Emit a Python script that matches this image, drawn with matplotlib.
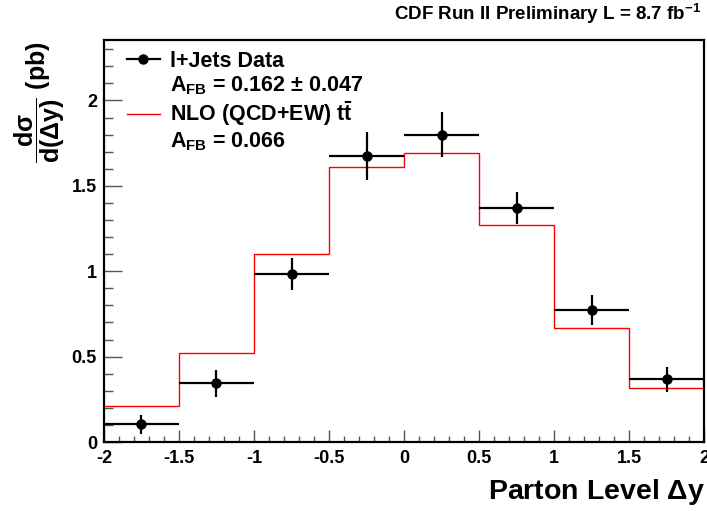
import numpy as np
import matplotlib
matplotlib.use('Agg')
import matplotlib.pyplot as plt
from matplotlib.lines import Line2D
from matplotlib.ticker import MultipleLocator

plt.rcParams['font.family'] = ['Liberation Sans', 'DejaVu Sans']
plt.rcParams['font.weight'] = 'bold'
plt.rcParams['axes.unicode_minus'] = False
plt.rcParams['mathtext.fontset'] = 'custom'
plt.rcParams['mathtext.rm'] = 'Liberation Sans:bold'
plt.rcParams['mathtext.bf'] = 'Liberation Sans:bold'
plt.rcParams['mathtext.it'] = 'Liberation Sans:bold'

# binning in parton level delta y
edges = [-2.0, -1.5, -1.0, -0.5, 0.0, 0.5, 1.0, 1.5, 2.0]
centers = [-1.75, -1.25, -0.75, -0.25, 0.25, 0.75, 1.25, 1.75]

# l+jets data
data_y = [0.104, 0.344, 0.984, 1.677, 1.80, 1.369, 0.773, 0.367]
data_err = [0.055, 0.078, 0.095, 0.14, 0.13, 0.095, 0.09, 0.073]

# NLO (QCD+EW) ttbar prediction
nlo_y = [0.213, 0.52, 1.10, 1.613, 1.695, 1.27, 0.666, 0.315]

fig = plt.figure(figsize=(7.07, 5.11), dpi=100)
ax = fig.add_axes([0.147, 0.135, 0.849, 0.787])

ax.stairs(nlo_y, edges, color='red', lw=1.0, baseline=None)
ax.errorbar(centers, data_y, xerr=0.25, yerr=data_err, fmt='o', color='black',
            ms=6.5, lw=1.6, capsize=0)

ax.set_xlim(-2, 2)
ax.set_ylim(0, 2.355)

ax.xaxis.set_major_locator(MultipleLocator(0.5))
ax.xaxis.set_minor_locator(MultipleLocator(0.1))
ax.yaxis.set_major_locator(MultipleLocator(0.5))
ax.yaxis.set_minor_locator(MultipleLocator(0.1))
ax.xaxis.set_major_formatter(plt.FuncFormatter(lambda v, p: '%g' % v))
ax.yaxis.set_major_formatter(plt.FuncFormatter(lambda v, p: '%g' % v))

ax.tick_params(axis='both', which='both', direction='in', top=False, right=False,
               labelsize=13, width=1.0, color='#555555')
ax.tick_params(axis='x', which='major', length=8.6, pad=6)
ax.tick_params(axis='x', which='minor', length=4.3)
ax.tick_params(axis='y', which='major', length=13, pad=5)
ax.tick_params(axis='y', which='minor', length=6.5)
for lab in ax.get_xticklabels() + ax.get_yticklabels():
    lab.set_fontweight('bold')
for s in ax.spines.values():
    s.set_linewidth(1.6)

handles = [Line2D([], [], color='black', marker='o', ms=6.5, lw=1.6),
           Line2D([], [], color='none'),
           Line2D([], [], color='red', lw=1.0),
           Line2D([], [], color='none')]
labels = ['l+Jets Data',
          r'A$_{\mathregular{FB}}$ = 0.162 $\pm$ 0.047',
          r'NLO (QCD+EW) t$\bar{\mathregular{t}}$',
          r'A$_{\mathregular{FB}}$ = 0.066']
leg = ax.legend(handles, labels, loc='upper left', frameon=False,
                prop={'weight': 'bold', 'size': 15.5}, handlelength=1.55,
                handletextpad=0.45, labelspacing=0.12,
                bbox_to_anchor=(0.02, 1.0), borderaxespad=0.1)

fig.text(0.992, 0.972, r'CDF Run II Preliminary L = 8.7 fb$^{\mathregular{-1}}$',
         ha='right', va='center', fontsize=13.5, fontweight='bold')
fig.text(0.997, 0.037, r'Parton Level $\Delta$y', ha='right', va='center',
         fontsize=20.5, fontweight='bold')
fig.text(0.056, 0.80, r'$\dfrac{\mathregular{d}\sigma}{\mathregular{d(}\Delta\mathregular{y)}}$ (pb)',
         rotation=90, ha='center', va='center', fontsize=18, fontweight='bold')

fig.savefig('out.png', dpi=100)
